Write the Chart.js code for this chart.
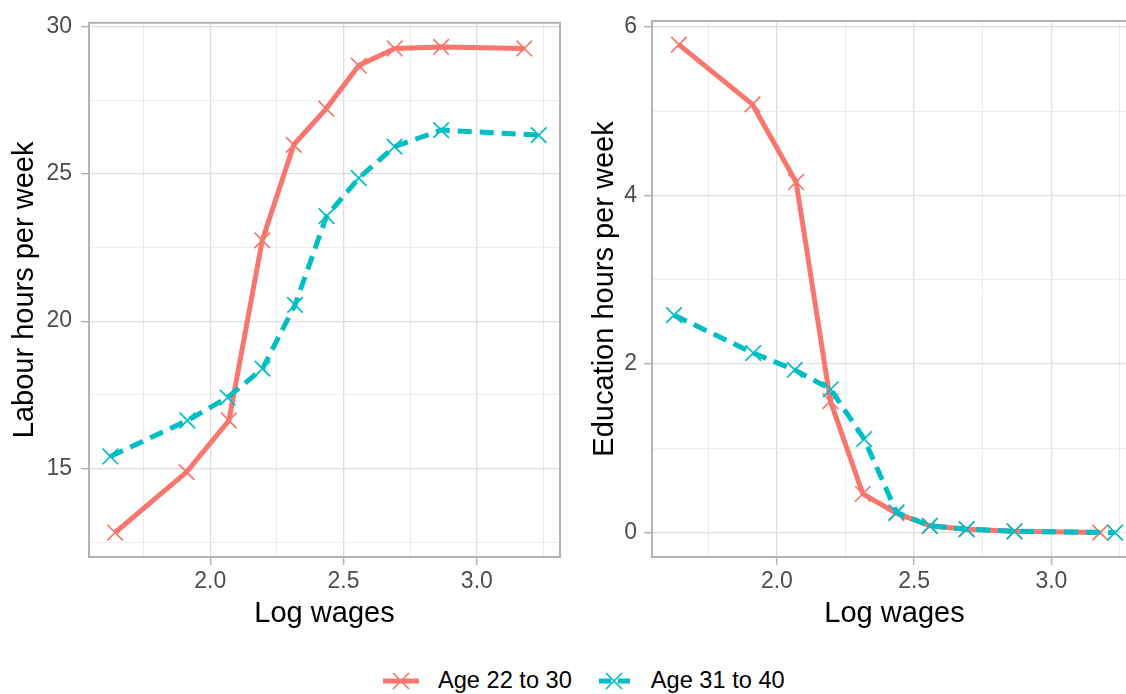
<!DOCTYPE html>
<html lang="en">
<head>
    <meta charset="UTF-8">
    <title>Labour and education hours by log wages</title>
    <script src="https://cdn.jsdelivr.net/npm/chart.js"></script>
    <style>
        body { margin: 0; padding: 0; width: 1126px; height: 694px; overflow: hidden; background: #fff; position: relative; }
        canvas { position: absolute; top: 0; }
        #labourChart { left: 0; }
        #educChart { left: 580px; }
        #legend {
            position: absolute;
            left: 381px;
            top: 667px;
            display: flex;
            align-items: center;
            font-family: "Liberation Sans", Arial, sans-serif;
            font-size: 23.6px;
            color: #000;
        }
        #legend .item { display: flex; align-items: center; margin-right: 22px; }
        #legend svg { margin-right: 17px; }
    </style>
</head>
<body>

<canvas id="labourChart" width="580" height="640"></canvas>
<canvas id="educChart" width="580" height="640"></canvas>
<div id="legend"></div>

<script>
    // Age 22 to 30
    const wageYoung = [1.643, 1.911, 2.070, 2.195, 2.313, 2.435, 2.557, 2.692, 2.866, 3.178];
    const labourYoung = [12.83, 14.88, 16.63, 22.74, 25.98, 27.21, 28.67, 29.25, 29.30, 29.25];
    const educYoung = [5.79, 5.08, 4.16, 1.56, 0.46, 0.23, 0.08, 0.04, 0.015, 0.0];

    // Age 31 to 40
    const wageOld = [1.625, 1.914, 2.065, 2.196, 2.318, 2.436, 2.557, 2.691, 2.866, 3.232];
    const labourOld = [15.41, 16.63, 17.41, 18.39, 20.55, 23.56, 24.85, 25.92, 26.48, 26.31];
    const educOld = [2.58, 2.13, 1.93, 1.70, 1.11, 0.24, 0.08, 0.04, 0.015, 0.0];

    const groupLabels = ['Age 22 to 30', 'Age 31 to 40'];

    // tick positions
    const xMajor = [2.0, 2.5, 3.0];
    const xMinor = [1.75, 2.25, 2.75, 3.25];
    const labourMajor = [15, 20, 25, 30];
    const labourMinor = [12.5, 17.5, 22.5, 27.5];
    const educMajor = [0, 2, 4, 6];
    const educMinor = [1, 3, 5];

    const RED = '#F8766D';
    const TEAL = '#00BFC4';
    const FONT = '"Liberation Sans", Arial, sans-serif';

    const zip = (xs, ys) => xs.map((x, i) => ({ x: x, y: ys[i] }));

    // ggplot-style full panel border
    const panelBorder = {
        id: 'panelBorder',
        afterDraw(chart) {
            const { ctx, chartArea: a } = chart;
            ctx.save();
            ctx.strokeStyle = '#B3B3B3';
            ctx.lineWidth = 2;
            ctx.strokeRect(a.left, a.top, a.right - a.left, a.bottom - a.top);
            ctx.restore();
        }
    };

    function axis(major, minor, min, max, title, fmt, size, tickPad, titlePad) {
        return {
            type: 'linear',
            min: min,
            max: max,
            afterBuildTicks: s => { s.ticks = major.concat(minor).sort((a, b) => a - b).map(v => ({ value: v })); },
            afterFit: s => {
                if (s.isHorizontal()) s.height = size; else s.width = size;
            },
            ticks: {
                autoSkip: false,
                maxRotation: 0,
                padding: tickPad,
                color: '#4D4D4D',
                font: { family: FONT, size: 23 },
                callback: v => major.includes(v) ? fmt(v) : ''
            },
            grid: {
                color: c => major.includes(c.tick.value) ? '#DEDEDE' : '#EDEDED',
                lineWidth: c => major.includes(c.tick.value) ? 1.3 : 1,
                tickColor: c => major.includes(c.tick.value) ? '#B3B3B3' : 'rgba(0,0,0,0)',
                tickLength: 8,
                tickWidth: 1.5
            },
            border: { display: true, color: '#B3B3B3', width: 2 },
            title: {
                display: true,
                text: title,
                color: '#000',
                font: { family: FONT, size: 29 },
                padding: titlePad
            }
        };
    }

    function makeChart(id, youngY, oldY, yAxis, padding) {
        const xAxis = axis(xMajor, xMinor, 1.545, 3.312, 'Log wages', v => v.toFixed(1), 83, 3, { top: 0, bottom: 9 });
        const common = {
            borderWidth: 5,
            pointStyle: 'crossRot',
            pointRadius: 11,
            pointBorderWidth: 1.7
        };
        return new Chart(document.getElementById(id), {
            type: 'line',
            data: {
                datasets: [Object.assign({
                    label: groupLabels[0],
                    data: zip(wageYoung, youngY),
                    borderColor: RED,
                    backgroundColor: RED,
                    order: 1
                }, common), Object.assign({
                    label: groupLabels[1],
                    data: zip(wageOld, oldY),
                    borderColor: TEAL,
                    backgroundColor: TEAL,
                    borderDash: [14, 8],
                    order: 0
                }, common)]
            },
            options: {
                responsive: false,
                animation: false,
                layout: { padding: padding },
                plugins: { legend: { display: false }, tooltip: { enabled: false } },
                scales: { x: xAxis, y: yAxis }
            },
            plugins: [panelBorder]
        });
    }

    const labourY = axis(labourMajor, labourMinor, 12.0, 30.12, 'Labour hours per week', v => String(v), 89, 9, { top: 8, bottom: 0 });
    makeChart('labourChart', labourYoung, labourOld, labourY, { top: 20, right: 20, left: 0, bottom: 0 });

    const educY = axis(educMajor, educMinor, -0.29, 6.07, 'Education hours per week', v => String(v), 72, 7, { top: 8, bottom: 0 });
    makeChart('educChart', educYoung, educOld, educY, { top: 21, right: 23, left: 0, bottom: 0 });

    // shared legend below both panels
    const legend = document.getElementById('legend');
    [[RED, null], [TEAL, '12 7']].forEach(([col, dash], i) => {
        const item = document.createElement('div');
        item.className = 'item';
        item.innerHTML =
            '<svg width="40" height="20" viewBox="0 0 40 20">' +
            '<line x1="2" y1="10" x2="38" y2="10" stroke="' + col + '" stroke-width="5"' +
            (dash ? ' stroke-dasharray="' + dash + '" stroke-dashoffset="-3"' : '') + '/>' +
            '<path d="M12 2 L28 18 M28 2 L12 18" stroke="' + col + '" stroke-width="1.7"/>' +
            '</svg><span>' + groupLabels[i] + '</span>';
        legend.appendChild(item);
    });
</script>

</body>
</html>
